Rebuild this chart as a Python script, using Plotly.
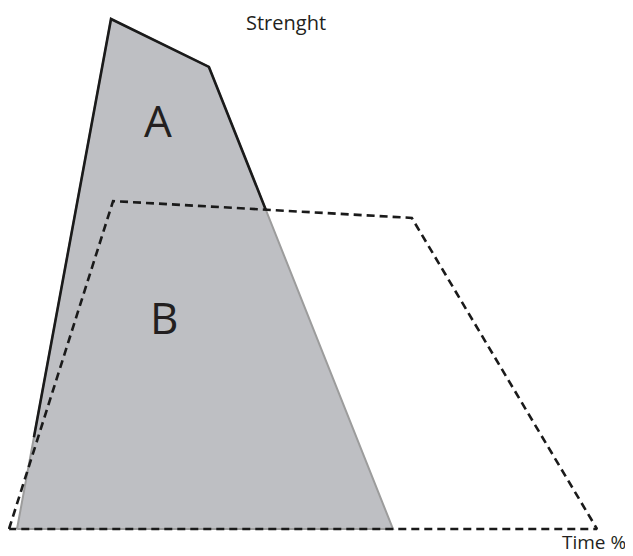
import plotly.graph_objects as go

# Curve A+B (strength vs time %)
curve_time = [1.36, 17.35, 34.0, 65.3]
curve_strength = [0.0, 100.0, 90.6, 0.0]

# Dashed reference trapezoid
ref_time = [0.0, 17.7, 68.5, 100.0]
ref_strength = [0.0, 64.3, 61.0, 0.0]

solid_from_strength = 18.0  # where the black outline starts on the left edge

# left edge point at given strength
t = solid_from_strength / curve_strength[1]
lx = curve_time[0] + t * (curve_time[1] - curve_time[0])

# intersection of right edge with dashed top
def intersect(p1, p2, p3, p4):
    x1, y1 = p1; x2, y2 = p2; x3, y3 = p3; x4, y4 = p4
    d = (x1 - x2) * (y3 - y4) - (y1 - y2) * (x3 - x4)
    a = x1 * y2 - y1 * x2
    b = x3 * y4 - y3 * x4
    return ((a * (x3 - x4) - (x1 - x2) * b) / d, (a * (y3 - y4) - (y1 - y2) * b) / d)

ix, iy = intersect((curve_time[2], curve_strength[2]), (curve_time[3], curve_strength[3]),
                   (ref_time[1], ref_strength[1]), (ref_time[2], ref_strength[2]))

fig = go.Figure()
fig.add_trace(go.Scatter(
    x=curve_time + [curve_time[0]], y=curve_strength + [curve_strength[0]],
    mode="lines", fill="toself", fillcolor="#bebfc3",
    line=dict(color="#9c9c9c", width=2), hoverinfo="skip"))
fig.add_trace(go.Scatter(
    x=[lx, curve_time[1], curve_time[2], ix], y=[solid_from_strength, curve_strength[1], curve_strength[2], iy],
    mode="lines", line=dict(color="#1a1a1a", width=2.6), hoverinfo="skip"))
fig.add_trace(go.Scatter(
    x=ref_time + [ref_time[0]], y=ref_strength + [ref_strength[0]],
    mode="lines", line=dict(color="#1a1a1a", width=2.6, dash="8px,5px"), hoverinfo="skip"))

font = "Open Sans"
fig.add_annotation(x=47.1, y=99.4, text="Strenght", showarrow=False,
                   font=dict(family=font, size=20, color="#231f20"))
fig.add_annotation(x=25.3, y=80.2, text="A", showarrow=False,
                   font=dict(family=font, size=44, color="#231f20"))
fig.add_annotation(x=26.4, y=41.6, text="B", showarrow=False,
                   font=dict(family=font, size=44, color="#231f20"))
fig.add_annotation(x=105.2, y=-2.6, text="Time %", showarrow=False, xanchor="right",
                   font=dict(family=font, size=19, color="#231f20"))

fig.update_layout(
    width=625, height=548, margin=dict(l=0, r=0, t=0, b=0),
    paper_bgcolor="white", plot_bgcolor="white", showlegend=False,
    xaxis=dict(range=[-0.170, 106.12], visible=False, fixedrange=True),
    yaxis=dict(range=[-5.294, 102.16], visible=False, fixedrange=True),
)
fig.write_html("out.html", config={"displayModeBar": False})
